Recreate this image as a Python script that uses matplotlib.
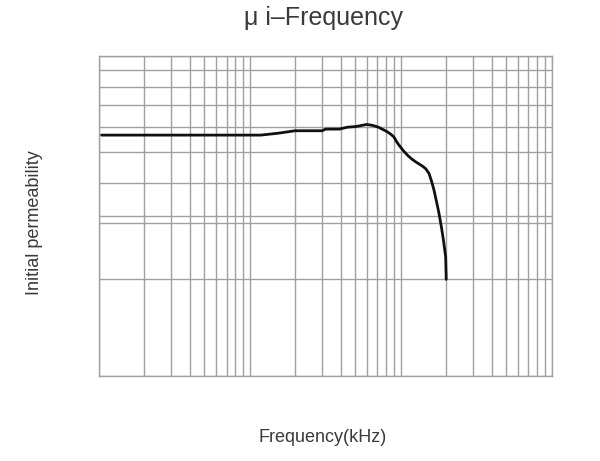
import matplotlib
matplotlib.use('Agg')
import matplotlib.pyplot as plt

plt.rcParams['font.family'] = ['Liberation Sans', 'DejaVu Sans']

# curve (frequency in kHz, relative permeability)
freq = [1.04, 11.8, 15.5, 19.9, 30.1, 31.8, 39.1, 44.3, 50.5, 56.3, 59.4,
        65.0, 71.2, 81.2, 86.0, 89.9, 93.5, 97.2, 104.0, 110.7, 118.0,
        125.6, 139.1, 146.0, 153.7, 160.0, 166, 172.5, 179, 185.5, 191.5,
        198.3, 200]
perm = [5.65, 5.65, 5.73, 5.83, 5.83, 5.90, 5.90, 5.98, 6.01, 6.07, 6.10,
        6.06, 5.98, 5.79, 5.68, 5.58, 5.40, 5.26, 5.05, 4.89, 4.76,
        4.66, 4.52, 4.44, 4.29, 4.05, 3.80, 3.50, 3.22, 2.93, 2.66,
        2.35, 2.0]

x_grid = [m * 10 ** e for e in range(3) for m in range(1, 10)] + [1000]
y_grid = [1, 2, 3, 3.15, 4, 5, 6, 7, 8, 9, 10]

grid_color = '#a0a0a0'
text_color = '#3a3a3a'

fig = plt.figure(figsize=(6, 4.61), dpi=100)
ax = fig.add_axes([0.165, 0.185, 0.7545, 0.694])
ax.set_xscale('log')
ax.set_yscale('log')
ax.set_xlim(1, 1000)
ax.set_ylim(1, 10)

for xv in x_grid:
    ax.axvline(xv, color=grid_color, lw=1.0, zorder=1)
for yv in y_grid:
    ax.axhline(yv, color=grid_color, lw=1.0, zorder=1)

ax.plot(freq, perm, color='#111111', lw=2.0, zorder=3,
        solid_joinstyle='round', solid_capstyle='round')

ax.set_xticks([])
ax.set_yticks([])
ax.xaxis.set_minor_locator(matplotlib.ticker.NullLocator())
ax.yaxis.set_minor_locator(matplotlib.ticker.NullLocator())
for s in ax.spines.values():
    s.set_color(grid_color)
    s.set_linewidth(1.0)

fig.text(0.54, 0.961, 'μ i–Frequency', ha='center', va='center',
         fontsize=18, color=text_color)
fig.text(0.538, 0.052, 'Frequency(kHz)', ha='center', va='center',
         fontsize=13, color=text_color)
fig.text(0.058, 0.516, 'Initial permeability', ha='center', va='center',
         rotation=90, fontsize=13, color=text_color)

fig.savefig('out.png', dpi=100)
